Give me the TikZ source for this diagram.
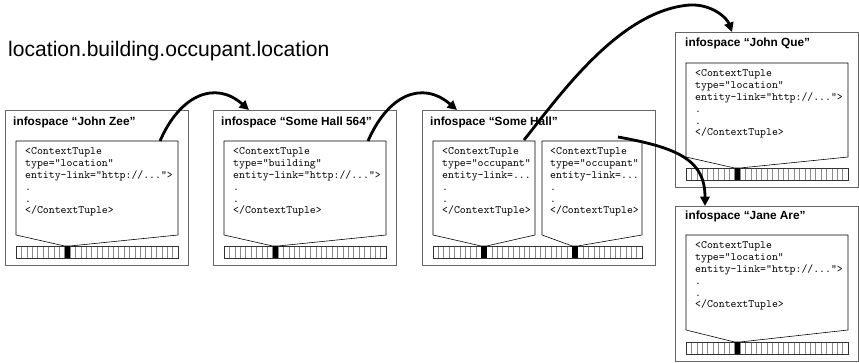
\documentclass[tikz,border=0pt]{standalone}
\usepackage{fontspec}
\setmainfont{Liberation Sans}
\usetikzlibrary{arrows.meta, calc}

\tikzset{
  infobox/.style={draw=black!60, line width=0.6pt, inner sep=0pt, anchor=north west,
    minimum width=5.49cm, minimum height=4.65cm},
  spacename/.style={anchor=base west, inner sep=0pt, font=\bfseries\fontsize{10.1pt}{12pt}\selectfont},
  tuple/.style={draw=black, line width=0.5pt},
  tuplecode/.style={anchor=north west, inner sep=0pt, align=left,
    font=\ttfamily\fontsize{9.6pt}{10.2pt}\selectfont},
  strip/.style={draw=black!80, line width=0.5pt},
  stripcell/.style={draw=black!45, line width=0.4pt},
  linkarrow/.style={line width=2.4pt, -{Triangle[length=8pt, width=8pt]}},
}

\begin{document}
\begin{tikzpicture}[x=0.03cm, y=-0.03cm]
  \useasboundingbox (0,0) rectangle (859,363);

  \node[anchor=base west, inner sep=0pt, font=\fontsize{18pt}{20pt}\selectfont] (heading) at (8,56)
    {location.building.occupant.location};

  % infospace John Zee
  \begin{scope}[shift={(5,110)}]
    \node[infobox] (zee) at (0,0) {};
    \node[spacename] (zee name) at (8,15) {infospace “John Zee”};
    \foreach \i in {1,...,29} \draw[stripcell] ({11+\i*5.4},136) -- ++(0,12);
    \draw[strip] (11,136) rectangle (173,148);
    \fill (59.6,136) rectangle ++(5.4,12);
    \draw[tuple] (11,31) -- (11,125) -- (59.6,136) -- (65,136) -- (173,125) -- (173,31) -- cycle;
    \node[tuplecode] (zee tuple) at (20,37)
      {<ContextTuple\\type=“location”\\entity-link=“http://...”>\\.\\.\\</ContextTuple>};
    \coordinate (zee link) at (155,31);
  \end{scope}

  % infospace Some Hall 564
  \begin{scope}[shift={(213,110)}]
    \node[infobox] (hall564) at (0,0) {};
    \node[spacename] (hall564 name) at (8,15) {infospace “Some Hall 564”};
    \foreach \i in {1,...,29} \draw[stripcell] ({11+\i*5.4},136) -- ++(0,12);
    \draw[strip] (11,136) rectangle (173,148);
    \fill (59.6,136) rectangle ++(5.4,12);
    \draw[tuple] (11,31) -- (11,125) -- (59.6,136) -- (65,136) -- (173,125) -- (173,31) -- cycle;
    \node[tuplecode] (hall564 tuple) at (20,37)
      {<ContextTuple\\type=“building”\\entity-link=“http://...”>\\.\\.\\</ContextTuple>};
    \coordinate (hall564 entry) at (36,0);
    \coordinate (hall564 link) at (155,31);
  \end{scope}

  % infospace Some Hall
  \begin{scope}[shift={(422,110)}]
    \node[infobox, minimum width=6.99cm] (hall) at (0,0) {};
    \node[spacename] (hall name) at (8,15) {infospace “Some Hall”};
    \foreach \i in {1,...,38} \draw[stripcell] ({11+\i*5.359},136) -- ++(0,12);
    \draw[strip] (11,136) rectangle (220,148);
    \fill (59.2,136) rectangle ++(5.36,12);
    \fill (150.3,136) rectangle ++(5.36,12);
    \draw[tuple] (11,31) -- (11,125) -- (59.2,136) -- (64.6,136) -- (113,125) -- (113,31) -- cycle;
    \draw[tuple] (120,31) -- (120,125) -- (150.3,136) -- (155.7,136) -- (220,125) -- (220,31) -- cycle;
    \node[tuplecode] (hall tuple a) at (20,37)
      {<ContextTuple\\type=“occupant”\\entity-link=...\\.\\.\\</ContextTuple>};
    \node[tuplecode] (hall tuple b) at (128,37)
      {<ContextTuple\\type=“occupant”\\entity-link=...\\.\\.\\</ContextTuple>};
    \coordinate (hall entry) at (35,0);
    \coordinate (hall link a) at (102,30);
    \coordinate (hall link b) at (196,27);
  \end{scope}

  % infospace John Que
  \begin{scope}[shift={(675,32)}]
    \node[infobox] (que) at (0,0) {};
    \node[spacename] (que name) at (10,14) {infospace “John Que”};
    \foreach \i in {1,...,29} \draw[stripcell] ({11+\i*5.4},136) -- ++(0,12);
    \draw[strip] (11,136) rectangle (173,148);
    \fill (59.6,136) rectangle ++(5.4,12);
    \draw[tuple] (11,31) -- (11,125) -- (59.6,136) -- (65,136) -- (173,125) -- (173,31) -- cycle;
    \node[tuplecode] (que tuple) at (20,37)
      {<ContextTuple\\type=“location”\\entity-link=“http://...”>\\.\\.\\</ContextTuple>};
    \coordinate (que entry) at (57,0);
  \end{scope}

  % infospace Jane Are
  \begin{scope}[shift={(675,206)}]
    \node[infobox] (are) at (0,0) {};
    \node[spacename] (are name) at (10,13) {infospace “Jane Are”};
    \foreach \i in {1,...,29} \draw[stripcell] ({11+\i*5.4},136) -- ++(0,12);
    \draw[strip] (11,136) rectangle (173,148);
    \fill (59.6,136) rectangle ++(5.4,12);
    \draw[tuple] (11,29) -- (11,124) -- (59.6,136) -- (65,136) -- (173,124) -- (173,29) -- cycle;
    \node[tuplecode] (are tuple) at (20,35)
      {<ContextTuple\\type=“location”\\entity-link=“http://...”>\\.\\.\\</ContextTuple>};
    \coordinate (are entry) at (30,0);
  \end{scope}

  % links between infospaces
  \draw[linkarrow] (zee link) .. controls +(20,-46) and +(-34,-30) .. (hall564 entry);
  \draw[linkarrow] (hall564 link) .. controls +(20,-46) and +(-35,-30) .. (hall entry);
  \draw[linkarrow] (hall link a) .. controls +(36,-45) and +(-70,5) .. ($(que entry)+(-42,-27)$)
    .. controls +(22,-1) and +(-5,-14) .. (que entry);
  \draw[linkarrow] (hall link b) .. controls +(62,11) and +(0,-45) .. (are entry);
\end{tikzpicture}
\end{document}
